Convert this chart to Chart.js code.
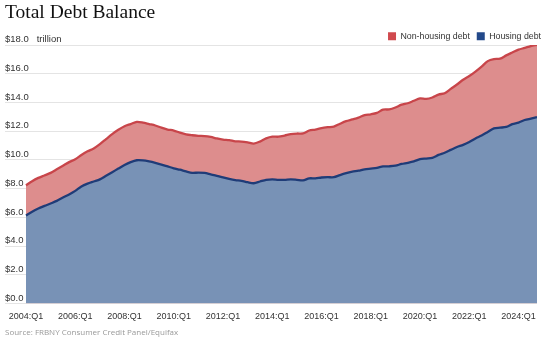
<!DOCTYPE html>
<html>
<head>
<meta charset="utf-8">
<script src="https://cdn.jsdelivr.net/npm/chart.js@4"></script>
<style>
  html, body { margin: 0; padding: 0; background: #fff; }
  #wrap { width: 545px; height: 345px; position: relative; }
</style>
</head>
<body>
<div id="wrap"><canvas id="debtChart"></canvas></div>
<script>
// --- Data (trillions of dollars, quarterly 2004:Q1 - 2024:Q4) ---
const firstYear = 2004;
const lastYear = 2024;

// total household debt (top of the red area)
const totalDebt = [
    8.23, 8.52, 8.75, 8.92,
    9.10, 9.35, 9.60, 9.85,
    10.05, 10.35, 10.60, 10.80,
    11.10, 11.45, 11.80, 12.10,
    12.35, 12.50, 12.65, 12.60,
    12.50, 12.40, 12.25, 12.12,
    12.05, 11.90, 11.78, 11.72,
    11.68, 11.66, 11.60, 11.50,
    11.42, 11.38, 11.30, 11.28,
    11.22, 11.14, 11.28, 11.50,
    11.62, 11.62, 11.70, 11.80,
    11.84, 11.85, 12.05, 12.12,
    12.22, 12.28, 12.32, 12.52,
    12.70, 12.82, 12.95, 13.12,
    13.18, 13.28, 13.50, 13.52,
    13.65, 13.85, 13.95, 14.12,
    14.28, 14.25, 14.35, 14.55,
    14.65, 14.95, 15.25, 15.58,
    15.84, 16.15, 16.50, 16.88,
    17.02, 17.05, 17.28, 17.48,
    17.68, 17.80, 17.93, 18.02
];

// housing debt (mortgage + home equity revolving)
const housingDebt = [
    6.14, 6.40, 6.62, 6.80,
    6.97, 7.15, 7.38, 7.60,
    7.85, 8.15, 8.35, 8.50,
    8.65, 8.90, 9.15, 9.40,
    9.65, 9.85, 9.98, 9.97,
    9.90, 9.80, 9.68, 9.55,
    9.42, 9.32, 9.20, 9.10,
    9.12, 9.10, 9.00, 8.90,
    8.78, 8.68, 8.60, 8.55,
    8.45, 8.38, 8.50, 8.62,
    8.65, 8.62, 8.62, 8.65,
    8.62, 8.58, 8.72, 8.72,
    8.78, 8.80, 8.80, 8.95,
    9.08, 9.18, 9.25, 9.35,
    9.40, 9.45, 9.55, 9.56,
    9.60, 9.72, 9.80, 9.90,
    10.05, 10.10, 10.15, 10.35,
    10.50, 10.70, 10.90, 11.05,
    11.25, 11.50, 11.70, 11.95,
    12.20, 12.25, 12.30, 12.50,
    12.60, 12.78, 12.88, 12.98
];

const yTicks = [0, 2, 4, 6, 8, 10, 12, 14, 16, 18];

// quarter labels like "2004:Q1"
const quarters = [];
for (let y = firstYear; y <= lastYear; y++) {
    for (let q = 1; q <= 4; q++) quarters.push(y + ':Q' + q);
}
// label every other year's Q1
const labelledQuarters = quarters
    .map((name, i) => ({ name, i }))
    .filter(d => d.name.endsWith(':Q1') && (parseInt(d.name) - firstYear) % 2 === 0)
    .map(d => d.i);

const toPoints = arr => arr.map((v, i) => ({ x: i, y: v }));

const sans = '"Liberation Sans", Arial, sans-serif';
const ctx = document.getElementById('debtChart').getContext('2d');

// nudge the legend so it hugs the right edge and sits a little lower
const legendNudge = {
    id: 'legendNudge',
    afterLayout(chart) {
        const lg = chart.legend;
        lg.left += 6; lg.right += 6;
        lg.top += 5.5; lg.bottom += 5.5;
    }
};

new Chart(ctx, {
    type: 'line',
    data: {
        datasets: [
            {
                label: 'Housing debt',
                data: toPoints(housingDebt),
                borderColor: '#1f3c78',
                backgroundColor: '#7892b6',
                legendColor: '#23498a',
                borderWidth: 2.3,
                fill: 'origin',
                pointRadius: 0,
                tension: 0.3
            },
            {
                label: 'Non-housing debt',
                data: toPoints(totalDebt),
                borderColor: '#c8454a',
                backgroundColor: '#dd8d8d',
                legendColor: '#d04a4e',
                borderWidth: 2.3,
                fill: 'origin',
                pointRadius: 0,
                tension: 0.3
            }
        ]
    },
    plugins: [legendNudge],
    options: {
        responsive: true,
        maintainAspectRatio: false,
        animation: false,
        layout: { padding: { left: 5, right: 8, top: 2, bottom: 0 } },
        plugins: {
            title: {
                display: true,
                text: 'Total Debt Balance',
                align: 'start',
                color: '#111',
                font: { family: 'Georgia, "Liberation Serif", serif', size: 19.5, weight: 'normal', lineHeight: 1.1 },
                padding: { top: 0, bottom: 0.8 }
            },
            subtitle: {
                display: true,
                position: 'bottom',
                text: 'Source: FRBNY Consumer Credit Panel/Equifax',
                align: 'start',
                color: '#999',
                font: { family: '"Open Sans", sans-serif', size: 8 },
                padding: { top: 6, bottom: 7 }
            },
            legend: {
                display: true,
                position: 'top',
                align: 'end',
                reverse: true,
                labels: {
                    boxWidth: 8,
                    boxHeight: 8,
                    padding: 2,
                    color: '#333',
                    font: { family: sans, size: 8.8, lineHeight: 1 },
                    generateLabels(chart) {
                        return chart.data.datasets.map((ds, i) => ({
                            // trailing spaces widen the gap between the two entries
                            text: i === 1 ? ds.label + '  ' : ds.label,
                            fillStyle: ds.legendColor,
                            strokeStyle: ds.legendColor,
                            lineWidth: 0,
                            fontColor: '#333',
                            datasetIndex: i
                        }));
                    }
                }
            },
            tooltip: { enabled: false }
        },
        scales: {
            x: {
                type: 'linear',
                min: -3.41,
                max: 83,
                grid: { display: false },
                border: { display: false },
                afterBuildTicks(scale) {
                    scale.ticks = labelledQuarters.map(v => ({ value: v }));
                },
                ticks: {
                    autoSkip: false,
                    maxRotation: 0,
                    padding: 0,
                    color: '#333',
                    font: { family: sans, size: 9 },
                    callback: v => quarters[v]
                }
            },
            y: {
                min: 0,
                max: 18,
                border: { display: false },
                grid: { color: '#e4e4e4', drawTicks: false, lineWidth: 1 },
                afterBuildTicks(scale) {
                    scale.ticks = yTicks.map(v => ({ value: v }));
                },
                afterFit(scale) {
                    scale.paddingTop = 0;
                    scale.paddingBottom = 0;
                },
                ticks: {
                    mirror: true,
                    padding: 0,
                    labelOffset: -5.5,
                    color: '#333',
                    font: { family: sans, size: 9.5 },
                    callback: v => '$' + v.toFixed(1) + (v === 18 ? '   trillion' : '')
                }
            }
        }
    }
});
</script>
</body>
</html>
